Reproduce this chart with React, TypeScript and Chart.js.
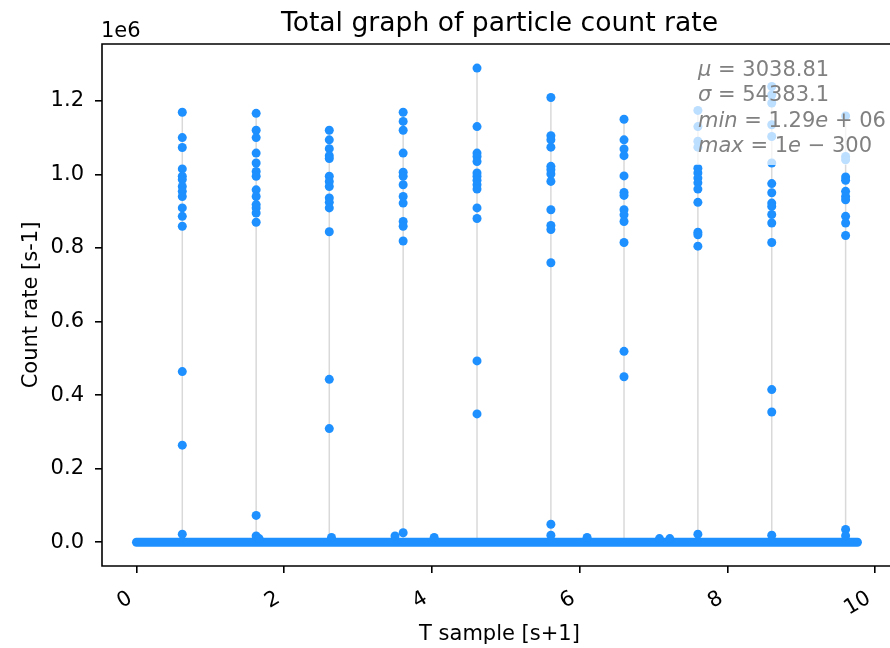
import React, { useEffect, useRef } from "react";
import { Chart, registerables } from "chart.js";

Chart.register(...registerables);

// Time of each burst (T sample, s+1)
const spikeTimes = [0.62, 1.62, 2.61, 3.61, 4.61, 5.61, 6.6, 7.6, 8.6, 9.6];
// Count rates for each burst, in units of 1e6 s-1
const spike0 = [1.169, 1.1, 1.073, 1.015, 0.995, 0.986, 0.967, 0.954, 0.94, 0.909, 0.886, 0.859, 0.464, 0.264];
const spike1 = [1.166, 1.12, 1.1, 1.058, 1.031, 1.008, 0.995, 0.958, 0.94, 0.918, 0.909, 0.895, 0.87, 0.073];
const spike2 = [1.12, 1.094, 1.07, 1.051, 1.043, 0.995, 0.981, 0.967, 0.936, 0.924, 0.909, 0.844, 0.443, 0.309];
const spike3 = [1.169, 1.144, 1.12, 1.058, 1.006, 0.995, 0.972, 0.94, 0.922, 0.872, 0.859, 0.819];
const spike4 = [1.289, 1.13, 1.058, 1.049, 1.035, 1.004, 0.995, 0.984, 0.972, 0.96, 0.909, 0.88, 0.493, 0.349];
const spike5 = [1.209, 1.105, 1.094, 1.074, 1.022, 1.013, 1.001, 0.981, 0.904, 0.861, 0.85, 0.76, 0.049];
const spike6 = [1.15, 1.094, 1.069, 1.051, 0.996, 0.951, 0.943, 0.904, 0.89, 0.872, 0.815, 0.519, 0.45];
const spike7 = [1.174, 1.13, 1.09, 1.074, 1.017, 1.004, 0.99, 0.977, 0.96, 0.924, 0.843, 0.836, 0.805];
const spike8 = [1.239, 1.216, 1.194, 1.135, 1.103, 1.031, 0.975, 0.95, 0.922, 0.913, 0.891, 0.868, 0.815, 0.415, 0.354];
const spike9 = [1.159, 1.049, 1.04, 0.993, 0.984, 0.954, 0.94, 0.931, 0.886, 0.868, 0.834, 0.035];
const spikeValues = [spike0, spike1, spike2, spike3, spike4, spike5, spike6, spike7, spike8, spike9];

// Dense near-zero background samples: first and last sample time, rate ~0
const baselineTimes = [0, 9.76];
const baselineRates = [0, 0];
// Small bumps just above zero
const bumpTimes = [0.62, 1.62, 1.66, 2.64, 3.5, 3.61, 4.03, 5.61, 6.1, 7.08, 7.22, 7.6, 8.6, 9.6];
const bumpRates = [0.022, 0.017, 0.01, 0.013, 0.017, 0.026, 0.013, 0.019, 0.013, 0.01, 0.01, 0.022, 0.019, 0.018];

const xTicks = [0, 2, 4, 6, 8, 10];
const yTicks = [0, 0.2, 0.4, 0.6, 0.8, 1.0, 1.2];

const titleText = "Total graph of particle count rate";
const xLabel = "T sample [s+1]";
const yLabel = "Count rate [s-1]";
const offsetText = "1e6";
const statsLines = [
  [{ t: "μ", it: true }, { t: " = 3038.81", it: false }],
  [{ t: "σ", it: true }, { t: " = 54383.1", it: false }],
  [{ t: "min", it: true }, { t: " = 1.29", it: false }, { t: "e", it: true }, { t: " + 06", it: false }],
  [{ t: "max", it: true }, { t: " = 1", it: false }, { t: "e", it: true }, { t: " − 300", it: false }],
];

const FONT = "DejaVu Sans";
const BLUE = "#1e90ff";

export default function App() {
  const ref = useRef<HTMLCanvasElement | null>(null);

  useEffect(() => {
    const canvas = ref.current;
    if (!canvas) return;

    const points: { x: number; y: number }[] = [];
    spikeTimes.forEach((t, i) => spikeValues[i].forEach((v) => points.push({ x: t, y: v })));
    bumpTimes.forEach((t, i) => points.push({ x: t, y: bumpRates[i] }));

    const stems: { x: number; y: number | null }[] = [];
    spikeTimes.forEach((t, i) => {
      stems.push({ x: t, y: 0 });
      stems.push({ x: t, y: Math.max(...spikeValues[i]) });
      stems.push({ x: t, y: null });
    });

    const baseline = baselineTimes.map((t, i) => ({ x: t, y: baselineRates[i] }));

    const decor = {
      id: "decor",
      afterDraw(chart: any) {
        const ctx = chart.ctx as CanvasRenderingContext2D;
        const a = chart.chartArea;
        ctx.save();
        // spines: left, bottom, top (right is beyond the picture)
        ctx.strokeStyle = "#000";
        ctx.lineWidth = 1.6;
        ctx.beginPath();
        ctx.moveTo(a.left, a.bottom + 0.8);
        ctx.lineTo(a.left, a.top - 0.8);
        ctx.moveTo(a.left - 0.8, a.top);
        ctx.lineTo(a.right + 5, a.top);
        ctx.moveTo(a.left - 0.8, a.bottom);
        ctx.lineTo(a.right + 5, a.bottom);
        ctx.stroke();

        // stats box
        ctx.fillStyle = "rgba(255,255,255,0.7)";
        ctx.fillRect(692, 52, 200, 113);
        ctx.fillStyle = "#808080";
        ctx.textBaseline = "alphabetic";
        ctx.textAlign = "left";
        statsLines.forEach((line, li) => {
          let x = 698;
          const y = 76 + li * 25.3;
          line.forEach((seg) => {
            ctx.font = (seg.it ? "italic " : "") + "21px '" + FONT + "'";
            ctx.fillText(seg.t, x, y);
            x += ctx.measureText(seg.t).width;
          });
        });

        // title
        ctx.fillStyle = "#000";
        ctx.font = "26.6px '" + FONT + "'";
        ctx.textAlign = "center";
        ctx.fillText(titleText, 499.5, 31);

        // x label
        ctx.font = "21px '" + FONT + "'";
        ctx.fillText(xLabel, 499.5, 640);

        // y label
        ctx.save();
        ctx.translate(37, (a.top + a.bottom) / 2);
        ctx.rotate(-Math.PI / 2);
        ctx.fillText(yLabel, 0, 0);
        ctx.restore();

        // offset text
        ctx.textAlign = "left";
        ctx.fillText(offsetText, 101, 37);
        ctx.restore();
      },
    };

    const chart = new Chart(canvas, {
      type: "scatter",
      data: {
        datasets: [
          {
            type: "scatter",
            data: points,
            backgroundColor: BLUE,
            borderColor: BLUE,
            pointRadius: 4.5,
            borderWidth: 0,
            order: 0,
          },
          {
            type: "line",
            data: baseline,
            borderColor: BLUE,
            borderWidth: 9,
            borderCapStyle: "round",
            pointRadius: 0,
            order: 1,
          } as any,
          {
            type: "line",
            data: stems as any,
            borderColor: "#d9d9d9",
            borderWidth: 1.5,
            pointRadius: 0,
            spanGaps: false,
            order: 2,
          } as any,
        ],
      },
      options: {
        animation: false,
        responsive: false,
        devicePixelRatio: 1,
        layout: { padding: { top: 44, left: 0, right: 0, bottom: 0 } },
        plugins: { legend: { display: false }, tooltip: { enabled: false }, title: { display: false } },
        scales: {
          x: {
            type: "linear",
            min: -0.467,
            max: 10.14,
            afterFit: (s: any) => {
              s.height = 82;
              s.paddingLeft = 0;
              s.paddingRight = 0;
            },
            afterBuildTicks: (s: any) => {
              s.ticks = xTicks.map((v) => ({ value: v }));
            },
            ticks: {
              color: "#000",
              font: { family: FONT, size: 21 },
              minRotation: 30,
              maxRotation: 30,
              padding: 13,
              labelOffset: -6,
              callback: (v: any) => String(v),
            },
            grid: { drawOnChartArea: false, color: "#000", lineWidth: 1.6, tickLength: 7 },
            border: { display: false },
          },
          y: {
            type: "linear",
            min: -0.0645,
            max: 1.3545,
            afterFit: (s: any) => {
              s.width = 102;
              s.paddingTop = 0;
              s.paddingBottom = 0;
            },
            afterBuildTicks: (s: any) => {
              s.ticks = yTicks.map((v) => ({ value: v }));
            },
            ticks: {
              color: "#000",
              font: { family: FONT, size: 21 },
              padding: 11,
              callback: (v: any) => Number(v).toFixed(1),
            },
            grid: { drawOnChartArea: false, color: "#000", lineWidth: 1.6, tickLength: 7 },
            border: { display: false },
          },
        },
      },
      plugins: [decor],
    });

    return () => chart.destroy();
  }, []);

  return (
    <canvas
      ref={ref}
      width={890}
      height={648}
      style={{ position: "absolute", left: 0, top: 0, width: 890, height: 648, display: "block" }}
    />
  );
}
